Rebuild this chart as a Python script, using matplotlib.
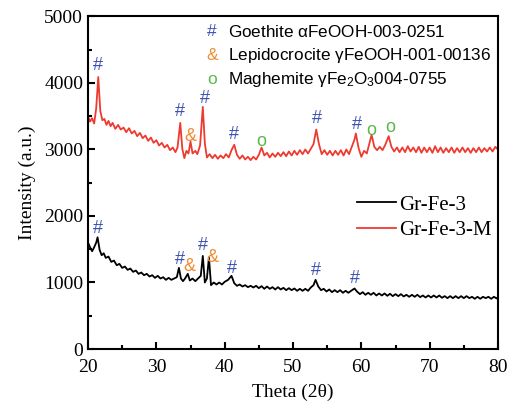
import numpy as np
import matplotlib.pyplot as plt
from matplotlib.ticker import MultipleLocator

# red curve, Gr-Fe-3-M
red_x = [20.0, 20.3, 20.6, 20.9, 21.2, 21.5, 21.8, 22.1, 22.4, 22.7, 23.0, 23.3, 23.6, 24.0, 24.4,
         24.8, 25.2, 25.6, 26.0, 26.4, 26.8, 27.2, 27.6, 28.0, 28.4, 28.8, 29.2, 29.6, 30.0, 30.4,
         30.8, 31.2, 31.6, 32.0, 32.4, 32.8, 33.1, 33.5, 33.8, 34.1, 34.4, 34.7, 35.0, 35.3, 35.7,
         36.0, 36.4, 36.8, 37.1, 37.4, 37.8, 38.2, 38.6, 39.0, 39.4, 39.8, 40.2, 40.6, 41.0, 41.4,
         41.8, 42.2, 42.6, 43.0, 43.4, 43.8, 44.2, 44.6, 45.0, 45.4, 45.8, 46.2, 46.6, 47.0, 47.4,
         47.8, 48.2, 48.6, 49.0, 49.4, 49.8, 50.2, 50.6, 51.0, 51.4, 51.8, 52.2, 52.6, 53.0, 53.4,
         53.8, 54.2, 54.6, 55.0, 55.4, 55.8, 56.2, 56.6, 57.0, 57.4, 57.8, 58.2, 58.6, 59.0, 59.2,
         59.6, 60.0, 60.4, 60.8, 61.1, 61.5, 61.9, 62.3, 62.7, 63.1, 63.5, 64.0, 64.4, 64.8, 65.2,
         65.6, 66.0, 66.4, 66.8, 67.2, 67.6, 68.0, 68.4, 68.8, 69.2, 69.6, 70.0, 70.4, 70.8, 71.2,
         71.6, 72.0, 72.4, 72.8, 73.2, 73.6, 74.0, 74.4, 74.8, 75.2, 75.6, 76.0, 76.4, 76.8, 77.2,
         77.6, 78.0, 78.4, 78.8, 79.2, 79.6, 80.0]
red_y = [3500, 3420, 3470, 3390, 3620, 4090, 3580, 3440, 3460, 3370, 3430, 3350, 3400, 3310, 3370,
         3300, 3330, 3260, 3320, 3240, 3280, 3200, 3250, 3170, 3210, 3130, 3180, 3100, 3140, 3060,
         3100, 3030, 3070, 2990, 3030, 2960, 3030, 3400, 3010, 2870, 2980, 2940, 3120, 2940, 2980,
         2930, 3060, 3640, 3090, 2880, 2930, 2870, 2920, 2860, 2910, 2870, 2930, 2880, 2990, 3070,
         2920, 2860, 2910, 2850, 2890, 2840, 2890, 2850, 2920, 3030, 2910, 2950, 2880, 2940, 2890,
         2950, 2900, 2960, 2900, 2970, 2910, 2980, 2920, 2990, 2930, 3000, 2940, 3010, 3080, 3300,
         3080, 2930, 2990, 2920, 2980, 2910, 2980, 2920, 2990, 2910, 3000, 2930, 3040, 3150, 3240,
         3020, 2890, 2980, 2940, 3060, 3220, 3040, 2990, 3040, 2990, 3070, 3200, 3040, 2970, 3030,
         2960, 3030, 2960, 3050, 2970, 3030, 2960, 3040, 2950, 3030, 2960, 3030, 2950, 3050, 2960,
         3030, 2950, 3020, 2960, 3030, 2950, 3020, 2960, 3030, 2960, 3020, 2950, 3020, 2960, 3030,
         2960, 3020, 2970, 3030, 2970, 3040, 3000]

# black curve, Gr-Fe-3
blk_x = [20.0, 20.3, 20.6, 20.9, 21.2, 21.4, 21.7, 22.0, 22.3, 22.6, 23.0, 23.4, 23.8, 24.2, 24.6,
         25.0, 25.4, 25.8, 26.2, 26.6, 27.0, 27.4, 27.8, 28.2, 28.6, 29.0, 29.4, 29.8, 30.2, 30.6,
         31.0, 31.4, 31.8, 32.2, 32.6, 33.0, 33.3, 33.6, 33.9, 34.2, 34.6, 34.9, 35.3, 35.7, 36.1,
         36.5, 36.8, 37.1, 37.4, 37.7, 38.0, 38.4, 38.8, 39.2, 39.6, 40.0, 40.5, 41.0, 41.4, 41.8,
         42.2, 42.6, 43.0, 43.4, 43.8, 44.2, 44.6, 45.0, 45.4, 45.8, 46.2, 46.6, 47.0, 47.4, 47.8,
         48.2, 48.6, 49.0, 49.4, 49.8, 50.2, 50.6, 51.0, 51.4, 51.8, 52.2, 52.6, 53.0, 53.3, 53.7,
         54.1, 54.5, 54.9, 55.3, 55.7, 56.1, 56.5, 56.9, 57.3, 57.7, 58.1, 58.5, 59.0, 59.4, 59.8,
         60.2, 60.6, 61.0, 61.4, 61.8, 62.2, 62.6, 63.0, 63.4, 63.8, 64.2, 64.6, 65.0, 65.4, 65.8,
         66.2, 66.6, 67.0, 67.4, 67.8, 68.2, 68.6, 69.0, 69.4, 69.8, 70.2, 70.6, 71.0, 71.4, 71.8,
         72.2, 72.6, 73.0, 73.4, 73.8, 74.2, 74.6, 75.0, 75.4, 75.8, 76.2, 76.6, 77.0, 77.4, 77.8,
         78.2, 78.6, 79.0, 79.4, 79.8, 80.0]
blk_y = [1600, 1530, 1470, 1530, 1600, 1680, 1490, 1410, 1440, 1370, 1390, 1310, 1330, 1260, 1280,
         1220, 1240, 1190, 1210, 1160, 1180, 1130, 1150, 1110, 1130, 1090, 1110, 1070, 1100, 1060,
         1080, 1040, 1070, 1040, 1060, 1080, 1220, 1060, 1020, 1060, 1130, 1030, 1060, 1020, 1060,
         1100, 1400, 1000, 1060, 1380, 960, 1000, 970, 1000, 970, 1010, 1040, 1100, 990, 950,
         970, 940, 960, 930, 950, 925, 950, 915, 945, 905, 940, 905, 930, 895, 930,
         895, 920, 885, 915, 885, 910, 875, 905, 875, 905, 875, 925, 960, 1040, 940,
         885, 905, 865, 895, 855, 885, 855, 885, 845, 875, 845, 875, 910, 860, 825,
         855, 815, 845, 815, 845, 805, 835, 805, 835, 800, 830, 795, 825, 795, 825,
         790, 815, 785, 815, 785, 815, 780, 805, 775, 805, 775, 805, 775, 805, 770,
         795, 765, 795, 765, 795, 765, 795, 765, 795, 765, 785, 755, 785, 755, 785,
         765, 785, 755, 785, 760, 780]

# phase marks: (symbol, x, y)
red_marks = [('#', 21.5, 4270), ('#', 33.5, 3570), ('&', 35.0, 3200), ('#', 37.1, 3770),
             ('#', 41.4, 3220), ('o', 45.4, 3120), ('#', 53.5, 3470), ('#', 59.3, 3380),
             ('o', 61.4, 3280), ('o', 64.3, 3330)]
blk_marks = [('#', 21.5, 1815), ('#', 33.4, 1340), ('&', 34.9, 1240), ('#', 36.8, 1560),
             ('&', 38.2, 1370), ('#', 41.0, 1215), ('#', 53.3, 1180), ('#', 59.0, 1055)]

phases = [('#', 'Goethite $\\alpha$FeOOH-003-0251'),
          ('&', 'Lepidocrocite $\\gamma$FeOOH-001-00136'),
          ('o', 'Maghemite $\\gamma$Fe$_2$O$_3$004-0755')]
mark_colors = {'#': '#3d52b0', '&': '#f28a30', 'o': '#5ab84a'}

plt.rcParams['font.family'] = ['Liberation Serif', 'DejaVu Serif']
plt.rcParams['mathtext.fontset'] = 'custom'
plt.rcParams['mathtext.rm'] = 'Liberation Sans'
plt.rcParams['mathtext.it'] = 'Liberation Sans'

fig = plt.figure(figsize=(5.09, 4.08), dpi=100)
ax = fig.add_axes([0.1729, 0.1446, 0.8055, 0.815])

ax.plot(blk_x, blk_y, color='black', lw=1.3, label='Gr-Fe-3')
ax.plot(red_x, red_y, color='#ee3a2f', lw=1.3, label='Gr-Fe-3-M')

for s, x, y in red_marks + blk_marks:
    ax.text(x, y, s, color=mark_colors[s], fontsize=13, ha='center', va='center',
            family='Liberation Sans')

for i, (s, name) in enumerate(phases):
    yy = 4770 - i * 360
    ax.text(38.1, yy, s, color=mark_colors[s], fontsize=12.5, ha='center', va='center',
            family='Liberation Sans')
    ax.text(40.5, yy, name, color='black', fontsize=12.3, ha='left', va='center',
            family='Liberation Sans')

ax.set_xlim(20, 80)
ax.set_ylim(0, 5000)
ax.xaxis.set_major_locator(MultipleLocator(10))
ax.xaxis.set_minor_locator(MultipleLocator(5))
ax.yaxis.set_major_locator(MultipleLocator(1000))
ax.yaxis.set_minor_locator(MultipleLocator(500))
ax.tick_params(which='both', direction='in', labelsize=14, width=1.5)
ax.tick_params(which='major', length=5)
ax.tick_params(which='minor', length=3)
ax.tick_params(axis='x', pad=7)
for sp in ax.spines.values():
    sp.set_linewidth(1.5)

ax.set_xlabel('Theta (2\u03b8)', fontsize=14, labelpad=6)
ax.set_ylabel('Intensity (a.u.)', fontsize=14, labelpad=6)

ax.legend(loc='center left', bbox_to_anchor=(0.61, 0.395), frameon=False, fontsize=15,
          handlelength=1.9, handletextpad=0.15, labelspacing=0.3)

fig.savefig('out.png', dpi=100)
